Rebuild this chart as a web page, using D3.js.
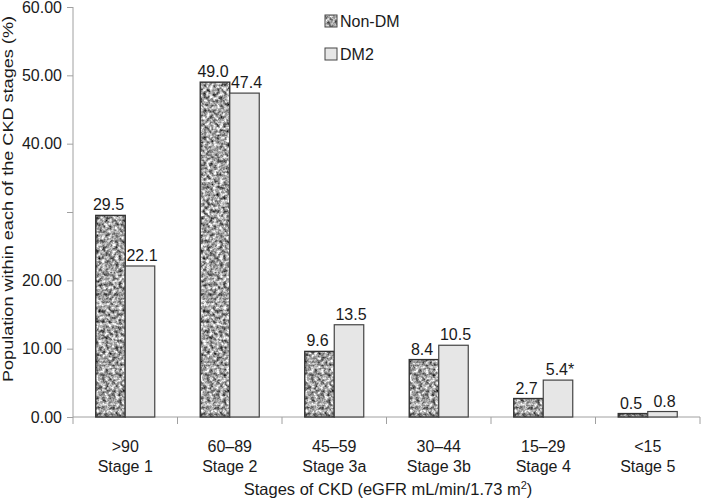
<!DOCTYPE html>
<html><head><meta charset="utf-8">
<script src="https://cdn.jsdelivr.net/npm/d3@7"></script>
<style>
html,body{margin:0;padding:0;background:#fff;}
text{font-family:"Liberation Sans",Arial,sans-serif;fill:#1a1a1a;}
</style></head>
<body><svg id="c" width="702" height="501"></svg>
<script>
const rangeLabels = [">90","60–89","45–59","30–44","15–29","<15"];
const stageLabels = ["Stage 1","Stage 2","Stage 3a","Stage 3b","Stage 4","Stage 5"];
const seriesNames = ["Non-DM","DM2"];
const nonDM = [29.5,49.0,9.6,8.4,2.7,0.5];
const dm2 = [22.1,47.4,13.5,10.5,5.4,0.8];
const dm2Marks = ["","","","","*",""];
const yTicks = [0,10,20,30,40,50,60];
const yTickLabels = ["0.00","10.00","20.00","","40.00","50.00","60.00"];

const svg = d3.select("#c");
const defs = svg.append("defs");
const f = defs.append("filter").attr("id","granite").attr("x",0).attr("y",0).attr("width",1).attr("height",1)
  .attr("color-interpolation-filters","sRGB");
f.append("feTurbulence").attr("type","fractalNoise").attr("baseFrequency",0.3).attr("numOctaves",3).attr("seed",7).attr("result","n");
f.append("feColorMatrix").attr("in","n").attr("type","matrix")
 .attr("values","1.5 0 0 0 -0.12  1.5 0 0 0 -0.12  1.5 0 0 0 -0.12  0 0 0 0 1").attr("result","g");
f.append("feComposite").attr("in","g").attr("in2","SourceGraphic").attr("operator","in");

const x0 = d3.scaleBand().domain(d3.range(6)).range([73,700]).padding(0);
const barW = 29.5;
const x1 = d3.scaleBand().domain(seriesNames).range([0,barW*2]);
const y = d3.scaleLinear().domain([0,60]).range([417,7]);

// axes
const yAxis = svg.append("g").attr("transform","translate(73,0)")
  .call(d3.axisLeft(y).tickValues(yTicks).tickSize(6).tickPadding(5)
    .tickFormat((d,i)=>yTickLabels[i]));
yAxis.selectAll("path,line").attr("stroke","#a0a0a0");
yAxis.select(".domain").attr("d","M0,7V417");
yAxis.selectAll("text").attr("font-size",16).attr("fill","#1a1a1a").style("font-family","Liberation Sans, Arial");

const xAxisG = svg.append("g").attr("transform","translate(0,417)");
xAxisG.append("line").attr("x1",73).attr("x2",700).attr("stroke","#a0a0a0");
xAxisG.selectAll("line.t").data(d3.range(7)).join("line").attr("class","t")
  .attr("x1",d=>d<6?x0(d):x0(5)+x0.bandwidth()).attr("x2",d=>d<6?x0(d):x0(5)+x0.bandwidth())
  .attr("y1",0).attr("y2",7).attr("stroke","#a0a0a0");

// bars
const groups = svg.append("g").selectAll("g").data(d3.range(6)).join("g")
  .attr("transform",i=>`translate(${x0(i)+x0.bandwidth()/2-barW},0)`);
groups.append("rect").attr("x",x1("Non-DM")).attr("width",barW)
  .attr("y",i=>y(nonDM[i])).attr("height",i=>y(0)-y(nonDM[i]))
  .attr("fill","#999").attr("filter","url(#granite)");
groups.append("rect").attr("x",x1("Non-DM")).attr("width",barW)
  .attr("y",i=>y(nonDM[i])).attr("height",i=>y(0)-y(nonDM[i]))
  .attr("fill","none").attr("stroke","#333").attr("stroke-width",1.4);
groups.append("rect").attr("x",x1("DM2")).attr("width",barW)
  .attr("y",i=>y(dm2[i])).attr("height",i=>y(0)-y(dm2[i]))
  .attr("fill","#e6e6e6").attr("stroke","#444").attr("stroke-width",1.2);
groups.append("text").attr("x",x1("Non-DM")+barW/2-2).attr("y",i=>y(nonDM[i])-5)
  .attr("text-anchor","middle").attr("font-size",16).text(i=>nonDM[i].toFixed(1));
groups.append("text").attr("x",x1("DM2")+barW/2+2).attr("y",i=>y(dm2[i])-5)
  .attr("text-anchor","middle").attr("font-size",16).text(i=>dm2[i].toFixed(1)+dm2Marks[i]);

// x labels
const xl = svg.append("g").selectAll("text").data(d3.range(6)).join("text")
  .attr("x",i=>x0(i)+x0.bandwidth()/2).attr("text-anchor","middle").attr("font-size",16);
xl.append("tspan").attr("x",i=>x0(i)+x0.bandwidth()/2).attr("y",452).text(i=>rangeLabels[i]);
xl.append("tspan").attr("x",i=>x0(i)+x0.bandwidth()/2).attr("y",472).text(i=>stageLabels[i]);

// x title
const xt = svg.append("text").attr("x",388).attr("y",495).attr("text-anchor","middle").attr("font-size",16.5);
xt.append("tspan").text("Stages of CKD (eGFR mL/min/1.73 m");
xt.append("tspan").attr("dy",-6).attr("font-size",11).text("2");
xt.append("tspan").attr("dy",6).text(")");

// y title
svg.append("text").attr("transform","translate(13,199) rotate(-90)").attr("text-anchor","middle")
  .attr("font-size",15.5).attr("textLength",366).attr("lengthAdjust","spacingAndGlyphs")
  .text("Population within each of the CKD stages (%)");

// legend
const lg = svg.append("g").attr("transform","translate(325,15)");
const li = lg.selectAll("g").data(seriesNames).join("g").attr("transform",(d,i)=>`translate(0,${i*33})`);
li.append("rect").attr("width",12).attr("height",12)
  .attr("fill",(d,i)=>i?"#e6e6e6":"#999").attr("filter",(d,i)=>i?null:"url(#granite)");
li.append("rect").attr("width",12).attr("height",12).attr("fill","none").attr("stroke","#444").attr("stroke-width",1);
li.append("text").attr("x",15).attr("y",12).attr("font-size",16).text(d=>d);
</script></body></html>
